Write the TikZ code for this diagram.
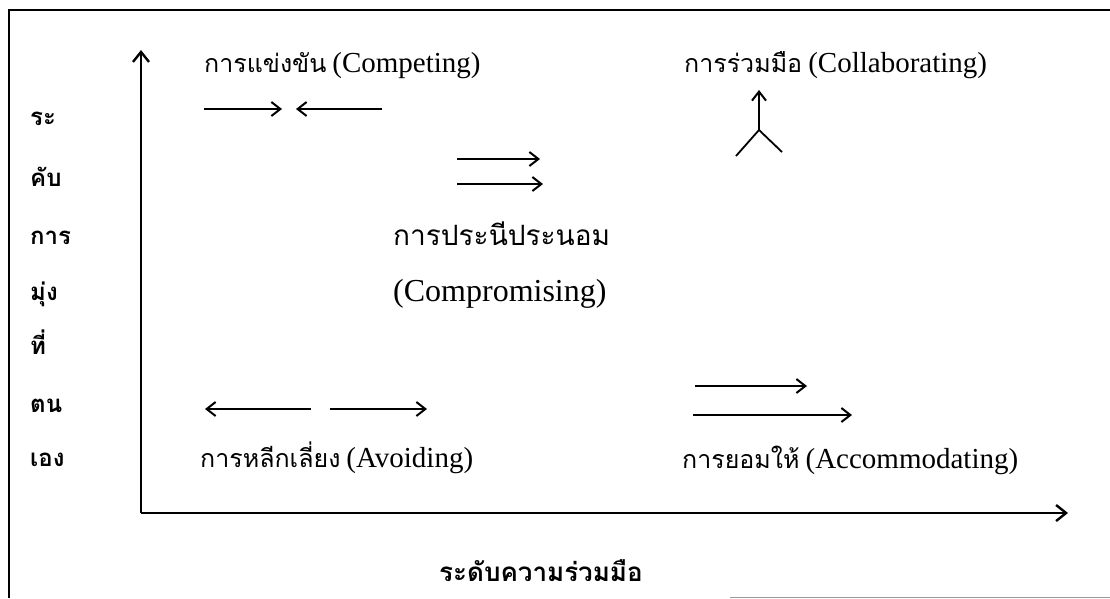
\documentclass[tikz,border=0pt]{standalone}
\usepackage{fontspec}
\setmainfont{Liberation Serif}
\newfontfamily\thai[Script=Thai]{Loma}
\usetikzlibrary{arrows.meta}
\tikzset{
  barb/.style={-{Straight Barb[length=9pt,width=14pt,line width=2pt]}, line width=1.8pt},
  axis/.style={-{Straight Barb[length=10pt,width=16pt,line width=2.4pt]}, line width=2.4pt},
  lbl/.style={anchor=base west, inner sep=0pt},
  ylbl/.style={anchor=base west, inner sep=0pt, font=\thai\bfseries\fontsize{24}{26}\selectfont}
}
\newcommand{\thx}[2]{{\thai\fontsize{#1}{#1}\selectfont #2}}
\newcommand{\lat}[2]{{\fontsize{#1}{#1}\selectfont #2}}
\newcommand{\lbltext}[2]{\thx{25}{#1}\hspace{6pt}\lat{29}{#2}}
\begin{document}
\begin{tikzpicture}[x=1pt,y=-1pt]
\useasboundingbox (0,0) rectangle (1110,598);
% frame
\draw[line width=2.2pt] (9,598) -- (9,10) -- (1110,10);
\draw[line width=1pt, black!40] (730,597) -- (1110,597);
% axes
\coordinate (O) at (141,513);
\coordinate (Ytip) at (141,50);
\coordinate (Xtip) at (1068,513);
\draw[axis] (O) -- (Ytip);
\draw[axis] (O) -- (Xtip);
% y label
\node[ylbl] (y1) at (30,125) {ระ};
\node[ylbl] (y2) at (30,186) {คับ};
\node[ylbl] (y3) at (30,244) {การ};
\node[ylbl] (y4) at (30,300) {มุ่ง};
\node[ylbl] (y5) at (30,354) {ที่};
\node[ylbl] (y6) at (30,412) {ตน};
\node[ylbl] (y7) at (30,466) {เอง};
% x label
\node[ylbl, font=\thai\bfseries\fontsize{26}{28}\selectfont] (xl) at (439,581) {ระดับความร่วมมือ};
% competing
\node[lbl] (comp) at (204,72) {\lbltext{การแข่งขัน}{(Competing)}};
\coordinate (c1a) at (204,109); \coordinate (c1b) at (282,109);
\coordinate (c2a) at (382,109); \coordinate (c2b) at (296,109);
\draw[barb] (c1a) -- (c1b);
\draw[barb] (c2a) -- (c2b);
% collaborating
\node[lbl] (coll) at (684,72) {\lbltext{การร่วมมือ}{(Collaborating)}};
\coordinate (j) at (759,130);
\coordinate (jt) at (759,90);
\coordinate (jl) at (736,156);
\coordinate (jr) at (782,152);
\draw[barb] (j) -- (jt);
\draw[line width=1.8pt] (jl) -- (j) -- (jr);
% compromising
\coordinate (m1a) at (457,159); \coordinate (m1b) at (540,159);
\coordinate (m2a) at (457,184); \coordinate (m2b) at (543,184);
\draw[barb] (m1a) -- (m1b);
\draw[barb] (m2a) -- (m2b);
\node[lbl] (mt1) at (393,245) {\thx{28}{การประนีประนอม}};
\node[lbl] (mt2) at (393,301) {\lat{32}{(Compromising)}};
% avoiding
\coordinate (a1a) at (311,409); \coordinate (a1b) at (205,409);
\coordinate (a2a) at (330,409); \coordinate (a2b) at (427,409);
\draw[barb] (a1a) -- (a1b);
\draw[barb] (a2a) -- (a2b);
\node[lbl] (avo) at (200,467) {\lbltext{การหลีกเลี่ยง}{(Avoiding)}};
% accommodating
\coordinate (r1a) at (695,386); \coordinate (r1b) at (807,386);
\coordinate (r2a) at (693,415); \coordinate (r2b) at (852,415);
\draw[barb] (r1a) -- (r1b);
\draw[barb] (r2a) -- (r2b);
\node[lbl] (acc) at (682,468) {\lbltext{การยอมให้}{(Accommodating)}};
\end{tikzpicture}
\end{document}
